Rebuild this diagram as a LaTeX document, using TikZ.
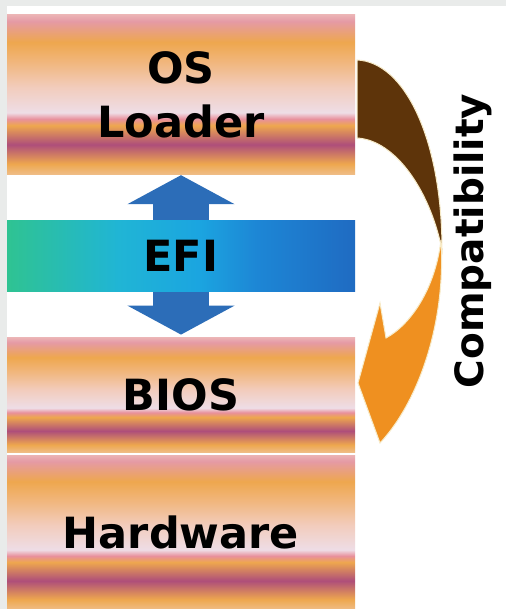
\documentclass[tikz,border=0pt]{standalone}
\usepackage{fontspec}
\setmainfont{DejaVu Sans}
\usepackage{tikz}
\usetikzlibrary{positioning, arrows.meta}
\usepackage{xcolor}
\definecolor{bgpanel}{HTML}{E9EBEA}
\definecolor{sttop}{HTML}{EBB2B4}
\definecolor{stpink}{HTML}{E59AA5}
\definecolor{storange}{HTML}{EEA74E}
\definecolor{stlightor}{HTML}{F1B77F}
\definecolor{stpeach}{HTML}{F2CCBC}
\definecolor{stlav}{HTML}{EEDDE6}
\definecolor{stline}{HTML}{E8909C}
\definecolor{stpurple}{HTML}{AE4E7A}
\definecolor{stbottom}{HTML}{EFBE8A}
\definecolor{efigreen}{HTML}{2FC392}
\definecolor{eficyan}{HTML}{20B5D5}
\definecolor{efisky}{HTML}{1BA5E0}
\definecolor{efimid}{HTML}{1D86D5}
\definecolor{efiblue}{HTML}{1F6BC2}
\definecolor{arrowblue}{HTML}{2C6DB8}
\definecolor{compbrown}{HTML}{5E340A}
\definecolor{comporange}{HTML}{EF9020}
\definecolor{compglow}{HTML}{F7EBC8}

\pgfdeclareverticalshading{layerstripes}{100bp}{color(0bp)=(stbottom); color(25bp)=(stbottom);
  color(28.5bp)=(storange); color(34.5bp)=(stpurple); color(40.5bp)=(storange); color(42.5bp)=(stline);
  color(44.5bp)=(stlav); color(52.5bp)=(stpeach); color(60bp)=(stlightor); color(66.5bp)=(storange);
  color(73bp)=(stpink); color(75bp)=(sttop); color(100bp)=(sttop)}
\pgfdeclarehorizontalshading{efiband}{100bp}{color(0bp)=(efigreen); color(25bp)=(efigreen);
  color(41bp)=(eficyan); color(52.5bp)=(efisky); color(61bp)=(efimid); color(75bp)=(efiblue); color(100bp)=(efiblue)}

\begin{document}
\begin{tikzpicture}[x=1pt, y=1pt,
    layerbox/.style={rectangle, shade, shading=layerstripes, minimum width=348pt, inner sep=0pt,
      text=black, font=\bfseries\fontsize{43}{54}\selectfont, align=center},
    updown/.style={arrowblue, line width=56pt, -{Triangle[length=29pt, width=106pt]}}]
  \fill[bgpanel] (0,0) rectangle (506,-609);
  \fill[white] (7,-6) rectangle (506,-609);
  \useasboundingbox (0,0) rectangle (506,-609);

  \node[layerbox, minimum height=160pt] (os) at (181,-95) {OS\\Loader};
  \node[layerbox, shading=efiband, minimum height=71pt, below=45pt of os] (efi) {EFI};
  \node[layerbox, minimum height=115pt, below=46pt of efi] (bios) {BIOS};
  \node[layerbox, minimum height=155pt, below=2pt of bios] (hw) {Hardware};

  \draw[updown] (efi.north) -- (os.south);
  \draw[updown, shorten >=3pt] (efi.south) -- (bios.north);

  \path[fill=compbrown, draw=compglow, line width=1pt] (357,-60) .. controls (405,-62) and (442,-140) .. (442,-250)
    .. controls (430,-190) and (395,-140) .. (357,-138) -- cycle;
  \path[fill=comporange, draw=compglow, line width=1pt] (441,-240) .. controls (446,-320) and (420,-400) .. (380,-443)
    -- (358,-383) -- (380,-303) -- (386,-338) .. controls (410,-325) and (435,-290) .. (441,-240) -- cycle;

  \node[rotate=90, inner sep=0pt, text=black, font=\bfseries\fontsize{39}{44}\selectfont] (compat) at (473,-241) {Compatibility};
\end{tikzpicture}
\end{document}
